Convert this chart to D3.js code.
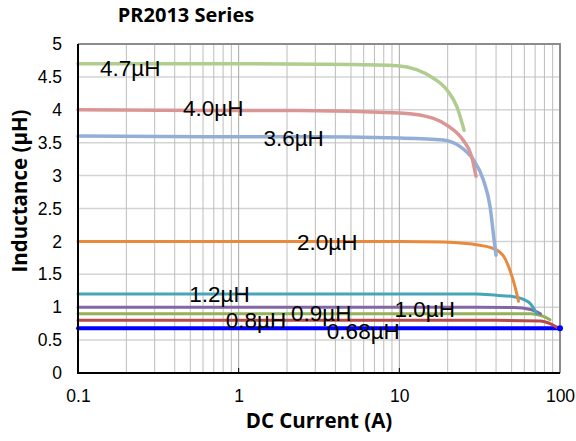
<!DOCTYPE html>
<html>
<head>
<meta charset="utf-8">
<script src="https://cdn.jsdelivr.net/npm/d3@7"></script>
<style>
  html, body { margin: 0; padding: 0; background: #fff; }
  svg { display: block; }
</style>
</head>
<body>
<svg id="chart" width="576" height="441"></svg>
<script>
// ---------- data ----------
const title = "PR2013 Series";
const xTitle = "DC Current (A)";
const yTitle = "Inductance (µH)";
const xTicks = [0.1, 1, 10, 100];
const xTickLabels = ["0.1", "1", "10", "100"];
const yTicks = [0, 0.5, 1, 1.5, 2, 2.5, 3, 3.5, 4, 4.5, 5];

const seriesNames = ["4.7µH", "4.0µH", "3.6µH", "2.0µH", "1.2µH", "1.0µH", "0.9µH", "0.8µH", "0.68µH"];

const cur47 = [0.1, 1, 5, 9.7, 12.8, 16.3, 19.8, 22.8, 25.3];
const ind47 = [4.7, 4.7, 4.69, 4.67, 4.61, 4.48, 4.30, 4.05, 3.69];

const cur40 = [0.1, 1, 2.4, 10.1, 16.3, 20.5, 24.9, 28.2, 30.0];
const ind40 = [4.0, 3.99, 3.99, 3.95, 3.87, 3.74, 3.54, 3.29, 2.99];

const cur36 = [0.1, 1, 2.4, 10.1, 18.8, 23.9, 28.9, 33.4, 36.7, 38.9, 40.0];
const ind36 = [3.6, 3.59, 3.59, 3.57, 3.54, 3.44, 3.24, 2.93, 2.53, 2.02, 1.79];

const cur20 = [0.1, 1, 10, 18.8, 31.6, 38.6, 44.7, 48.8, 52.5, 55.2];
const ind20 = [2.0, 2.0, 2.0, 1.99, 1.94, 1.89, 1.77, 1.56, 1.31, 1.09];

const cur12 = [0.1, 1, 10, 30, 40.2, 51.4, 59.3, 65.6, 71.8];
const ind12 = [1.2, 1.2, 1.2, 1.2, 1.18, 1.16, 1.12, 1.05, 0.90];

const cur10 = [0.1, 1, 10, 30, 51.4, 65.6, 75.6];
const ind10 = [1.0, 1.0, 1.0, 1.0, 0.995, 0.965, 0.90];

const cur09 = [0.1, 1, 10, 40, 65.6, 79, 86.7];
const ind09 = [0.9, 0.9, 0.9, 0.9, 0.90, 0.86, 0.81];

const cur08 = [0.1, 1, 10, 40, 75.6, 86.7, 98.5];
const ind08 = [0.8, 0.8, 0.8, 0.8, 0.79, 0.75, 0.675];

const cur068 = [0.1, 1, 10, 100];
const ind068 = [0.68, 0.68, 0.68, 0.68];

// label anchor positions (in data units: current, inductance)
const labelCur = [0.137, 0.451, 1.425, 2.31, 0.493, 9.33, 2.12, 0.832, 3.54];
const labelInd = [4.51, 3.90, 3.45, 1.87, 1.084, 0.856, 0.785, 0.688, 0.51];

// ---------- styles ----------
const colors = ["#b0cc8e", "#d99694", "#93afd8", "#e8893b", "#46a6b8", "#8366a4", "#93b15a", "#b84a47", "#0000ff"];
const widths = [3.5, 3.5, 3.5, 3, 3, 3, 3, 3, 4];

const curs = [cur47, cur40, cur36, cur20, cur12, cur10, cur09, cur08, cur068];
const inds = [ind47, ind40, ind36, ind20, ind12, ind10, ind09, ind08, ind068];

// ---------- layout ----------
const svg = d3.select("#chart");
const L = 78, R = 560, T = 44, B = 373;

const x = d3.scaleLog().domain([0.1, 100]).range([L, R]);
const y = d3.scaleLinear().domain([0, 5]).range([B, T]);

// grid: vertical minor/major log lines
const gridX = [];
for (let d = 0.1; d < 100; d *= 10) {
  for (let k = 1; k <= 9; k++) gridX.push(+(d * k).toPrecision(3));
}
gridX.push(100);

svg.append("g").selectAll("line.hg").data(yTicks).join("line")
  .attr("x1", L).attr("x2", R)
  .attr("y1", d => y(d)).attr("y2", d => y(d))
  .attr("stroke", "#d4d4d4").attr("stroke-width", 1.5);

svg.append("g").selectAll("line.vg").data(gridX).join("line")
  .attr("x1", d => x(d)).attr("x2", d => x(d))
  .attr("y1", T).attr("y2", B)
  .attr("stroke", d => xTicks.includes(d) ? "#a8a8a8" : "#bdbdbd").attr("stroke-width", 1);

// frame top/right (gray)
svg.append("path")
  .attr("d", `M${L},${T}H${R}V${B}`)
  .attr("fill", "none").attr("stroke", "#8c8c8c").attr("stroke-width", 2);

// series lines
const line = d3.line()
  .x(d => x(d[0])).y(d => y(d[1]))
  .curve(d3.curveMonotoneX);

const order = [8, 7, 6, 5, 4, 3, 2, 1, 0];
order.forEach(i => {
  const pts = curs[i].map((c, j) => [c, inds[i][j]]);
  svg.append("path")
    .datum(pts)
    .attr("d", line)
    .attr("fill", "none")
    .attr("stroke", colors[i])
    .attr("stroke-width", widths[i])
    .attr("stroke-linecap", "round")
    .attr("stroke-linejoin", "round");
});

// end dot on 0.68 line
svg.append("circle")
  .attr("cx", x(cur068[cur068.length - 1]))
  .attr("cy", y(ind068[ind068.length - 1]))
  .attr("r", 3).attr("fill", colors[8]);

// axes
const xAxis = d3.axisBottom(x).tickValues(xTicks)
  .tickFormat((d, i) => xTickLabels[i]).tickSize(0).tickPadding(17);
const gx = svg.append("g").attr("transform", `translate(0,${B})`).call(xAxis);
gx.select(".domain").remove();
gx.selectAll("text").attr("font-family", "Liberation Sans, Arial, sans-serif")
  .attr("font-size", 17.5).attr("fill", "#000");

const yAxis = d3.axisLeft(y).tickValues(yTicks)
  .tickFormat(d3.format("~g")).tickSize(0).tickPadding(16);
const gy = svg.append("g").attr("transform", `translate(${L},0)`).call(yAxis);
gy.select(".domain").remove();
gy.selectAll("text").attr("font-family", "Liberation Sans, Arial, sans-serif")
  .attr("font-size", 17.5).attr("fill", "#000");

// decade inner ticks on bottom axis
svg.append("g").selectAll("line").data(xTicks.slice(1, 3)).join("line")
  .attr("x1", d => x(d)).attr("x2", d => x(d))
  .attr("y1", B).attr("y2", B - 5)
  .attr("stroke", "#000").attr("stroke-width", 1);

// left & bottom axis lines (black)
svg.append("path")
  .attr("d", `M${L},${T}V${B}H${R}`)
  .attr("fill", "none").attr("stroke", "#000").attr("stroke-width", 2);

// series labels
svg.append("g").selectAll("text").data(seriesNames).join("text")
  .attr("x", (d, i) => x(labelCur[i]))
  .attr("y", (d, i) => y(labelInd[i]))
  .attr("font-family", "Liberation Sans, Arial, sans-serif")
  .attr("font-size", 22.5)
  .attr("fill", "#000")
  .text(d => d);

// titles
svg.append("text")
  .attr("x", 186).attr("y", 22)
  .attr("text-anchor", "middle")
  .attr("font-family", "Open Sans, sans-serif")
  .attr("font-weight", "bold").attr("font-size", 20)
  .text(title);

svg.append("text")
  .attr("x", (L + R) / 2).attr("y", 428)
  .attr("text-anchor", "middle")
  .attr("font-family", "Open Sans, sans-serif")
  .attr("font-weight", "bold").attr("font-size", 20.5)
  .text(xTitle);

svg.append("text")
  .attr("transform", `translate(27,191) rotate(-90)`)
  .attr("text-anchor", "middle")
  .attr("font-family", "Open Sans, sans-serif")
  .attr("font-weight", "bold").attr("font-size", 20.5)
  .text(yTitle);
</script>
</body>
</html>
